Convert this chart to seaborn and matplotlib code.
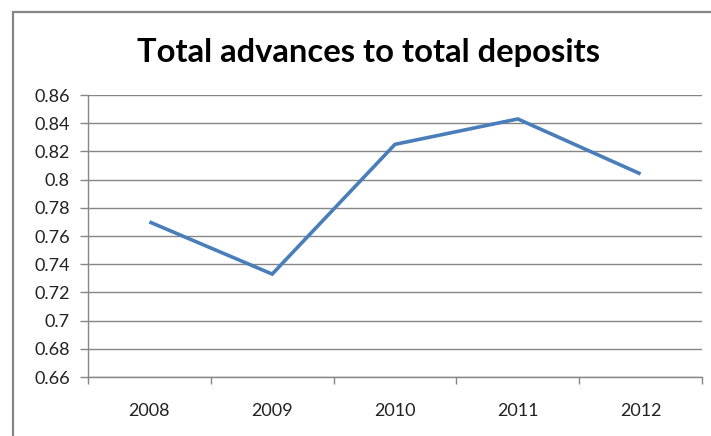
import numpy as np
import pandas as pd
import matplotlib
matplotlib.use("Agg")
import matplotlib.pyplot as plt
import matplotlib.ticker as mticker
from matplotlib.patches import Rectangle
import seaborn as sns

# Ratio of total advances to total deposits, by year
years = ["2008", "2009", "2010", "2011", "2012"]
ratio = [0.770, 0.733, 0.825, 0.843, 0.804]

y_ticks = [0.66, 0.68, 0.70, 0.72, 0.74, 0.76, 0.78, 0.80, 0.82, 0.84, 0.86]
title = "Total advances to total deposits"

df = pd.DataFrame({"pos": np.arange(len(years)), "year": years, "ratio": ratio})

sns.set_theme(style="white")
plt.rcParams["font.family"] = ["Lato", "DejaVu Sans"]

W, H = 711, 436
fig = plt.figure(figsize=(W / 100, H / 100), dpi=100)
fig.patch.set_facecolor("white")

grid_col = "#868686"
line_col = "#4A7EBB"

ax = fig.add_axes([88 / W, 1 - 377 / H, (702 - 88) / W, (377 - 95) / H])
ax.set_facecolor("white")

sns.lineplot(data=df, x="pos", y="ratio", ax=ax, color=line_col,
             linewidth=2.6, solid_joinstyle="miter", solid_capstyle="butt")

ax.set_ylim(y_ticks[0], y_ticks[-1])
ax.set_xlim(-0.5, len(years) - 0.5)

# y axis: gridlines at every step, labels in general number format
ax.yaxis.set_major_locator(mticker.FixedLocator(y_ticks))
ax.yaxis.set_major_formatter(mticker.FuncFormatter(lambda v, p: f"{round(v, 2):g}"))
ax.grid(axis="y", color=grid_col, linewidth=1.0)
ax.grid(axis="x", visible=False)

# x axis: tick marks between categories, labels centred on each category
ax.xaxis.set_major_locator(mticker.FixedLocator(np.arange(len(years) + 1) - 0.5))
ax.xaxis.set_major_formatter(mticker.NullFormatter())
ax.xaxis.set_minor_locator(mticker.FixedLocator(df["pos"]))
ax.xaxis.set_minor_formatter(mticker.FixedFormatter(years))

ax.tick_params(axis="y", which="major", direction="out", length=6, width=1,
               color=grid_col, pad=7, labelsize=13, labelcolor="#222222", left=True)
ax.tick_params(axis="x", which="major", direction="out", length=5, width=1,
               color=grid_col, bottom=True)
ax.tick_params(axis="x", which="minor", length=0, pad=19, labelsize=13,
               labelcolor="#222222")

for side in ("top", "right"):
    ax.spines[side].set_visible(False)
for side in ("left", "bottom"):
    ax.spines[side].set_color(grid_col)
    ax.spines[side].set_linewidth(1.0)

ax.set_xlabel("")
ax.set_ylabel("")

fig.text(368 / W, 1 - 62 / H, title, ha="center", va="baseline",
         fontsize=23.6, fontweight="bold", color="black")

# chart-area frame
fig.patches.append(Rectangle((13 / W, -0.2), 1.2, 1.2 - 12 / H,
                             transform=fig.transFigure, fill=False,
                             edgecolor=grid_col, linewidth=1.6, clip_on=False))

fig.savefig("out.png", dpi=100, facecolor="white")
